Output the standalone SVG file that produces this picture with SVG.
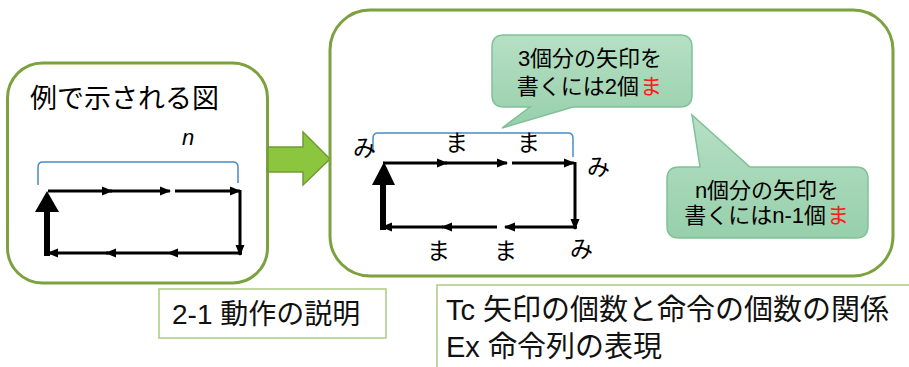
<svg xmlns="http://www.w3.org/2000/svg" width="909" height="367" viewBox="0 0 909 367">
<style>
.box{fill:#fff;stroke:#7ba23f;stroke-width:3}
.lbl{fill:#fff;stroke:#abcb82;stroke-width:1.5}
.jp{font-family:"Noto Sans CJK JP","Liberation Sans",sans-serif;fill:#000}
.mx{font-family:"Liberation Sans","Noto Sans CJK JP",sans-serif;fill:#111}
.ln{stroke:#000;stroke-width:3;fill:none}
.brk{stroke:#4a8cc8;stroke-width:1.5;fill:none}
.co{fill:url(#cg);stroke:#80c196;stroke-width:1.5}
.ct{font-family:"Liberation Sans","Noto Sans CJK JP",sans-serif;font-size:22px;fill:#000}
.red{fill:#ff1a1a}
</style>
<defs>
<linearGradient id="cg" x1="0" y1="0" x2="0" y2="1">
<stop offset="0" stop-color="#b6e0c4"/>
<stop offset="1" stop-color="#97cfab"/>
</linearGradient>
<marker id="ah" markerUnits="userSpaceOnUse" markerWidth="11" markerHeight="10" refX="10" refY="5" orient="auto">
<path d="M0,0.5 L11,5 L0,9.5 Z" fill="#000"/>
</marker>
</defs>

<g id="left-box">
<rect class="box" x="7.5" y="63" width="260" height="220" rx="35"/>
<text class="jp" x="30" y="108" font-size="27">例で示される図</text>
<text x="182" y="145" font-size="22" font-style="italic" font-family="Liberation Sans, sans-serif">n</text>
<path class="brk" d="M38,185 V167 Q38,162 43,162 H233 Q238,162 238,167 V183"/>
</g>

<g id="left-arrows">
<line class="ln" x1="48" y1="191" x2="112" y2="191" marker-end="url(#ah)"/>
<line class="ln" x1="110" y1="191" x2="170" y2="191" marker-end="url(#ah)"/>
<line class="ln" x1="175" y1="191" x2="240" y2="191" marker-end="url(#ah)"/>
<line class="ln" x1="240" y1="190" x2="240" y2="255" marker-end="url(#ah)"/>
<line class="ln" x1="242" y1="253" x2="168" y2="253" marker-end="url(#ah)"/>
<line class="ln" x1="168" y1="253" x2="106" y2="253" marker-end="url(#ah)"/>
<line class="ln" x1="108" y1="253" x2="48" y2="253" marker-end="url(#ah)"/>
<line x1="47" y1="256" x2="47" y2="208" stroke="#000" stroke-width="6"/>
<polygon points="47,191 59,212 35,212" fill="#000"/>
</g>

<g id="green-arrow">
<polygon points="268,147 303,147 303,132 330,159 303,185 303,172 268,172" fill="#8cc63f" stroke="#6f9c32" stroke-width="1.5"/>
</g>

<g id="right-box">
<rect class="box" x="330" y="10" width="563" height="266" rx="40"/>
<path class="brk" d="M373,153 V138 Q373,133 378,133 H568 Q573,133 573,138 V157"/>
<text class="jp" x="353" y="156" font-size="23">み</text>
<text class="jp" x="445" y="151" font-size="23">ま</text>
<text class="jp" x="517" y="151" font-size="23">ま</text>
<text class="jp" x="587" y="175" font-size="23">み</text>
<text class="jp" x="427" y="259" font-size="23">ま</text>
<text class="jp" x="494" y="259" font-size="23">ま</text>
<text class="jp" x="570" y="257" font-size="23">み</text>
</g>

<g id="right-arrows">
<line class="ln" x1="383" y1="163" x2="447" y2="163" marker-end="url(#ah)"/>
<line class="ln" x1="445" y1="163" x2="507" y2="163" marker-end="url(#ah)"/>
<line class="ln" x1="512" y1="163" x2="574" y2="163" marker-end="url(#ah)"/>
<line class="ln" x1="575" y1="162" x2="575" y2="229" marker-end="url(#ah)"/>
<line class="ln" x1="577" y1="227" x2="505" y2="227" marker-end="url(#ah)"/>
<line class="ln" x1="497" y1="227" x2="442" y2="227" marker-end="url(#ah)"/>
<line class="ln" x1="443" y1="227" x2="382" y2="227" marker-end="url(#ah)"/>
<line x1="383" y1="230" x2="383" y2="180" stroke="#000" stroke-width="6"/>
<polygon points="384,162 395,185 372,185" fill="#000"/>
</g>

<g id="callout-1">
<path class="co" d="M504,35 H680 Q692,35 692,47 V95 Q692,107 680,107 H573 L502,128 L530,107 H504 Q492,107 492,95 V47 Q492,35 504,35 Z"/>
<text class="ct" x="590" y="66" text-anchor="middle">3個分の矢印を</text>
<text class="ct" x="639" y="94" text-anchor="end">書くには2個</text>
<text class="ct red" x="640" y="94">ま</text>
</g>

<g id="callout-2">
<path class="co" d="M679,167 H700 L692,115 L750,167 H856 Q868,167 868,179 V226 Q868,238 856,238 H679 Q667,238 667,226 V179 Q667,167 679,167 Z"/>
<text class="ct" x="767" y="198" text-anchor="middle">n個分の矢印を</text>
<text class="ct" x="826" y="223" text-anchor="end">書くにはn-1個</text>
<text class="ct red" x="827" y="223">ま</text>
</g>

<g id="label-2-1">
<rect class="lbl" x="159" y="289" width="227" height="49"/>
<text class="mx" x="172" y="324" font-size="28">2-1 動作の説明</text>
</g>

<g id="label-tc">
<rect class="lbl" x="437" y="285" width="480" height="90"/>
<text class="mx" x="446" y="320" font-size="29">Tc 矢印の個数と命令の個数の関係</text>
<text class="mx" x="446" y="357" font-size="29">Ex 命令列の表現</text>
</g>
</svg>
